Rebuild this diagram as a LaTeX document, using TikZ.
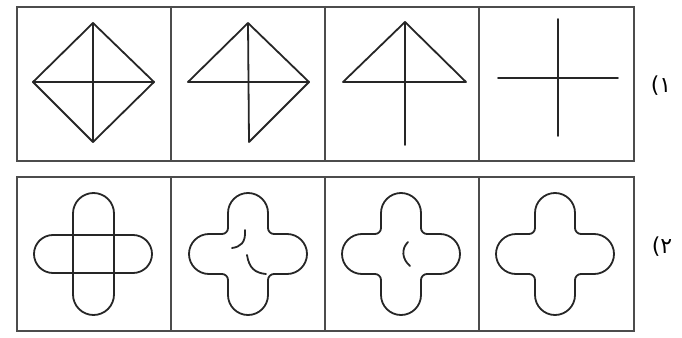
\documentclass[tikz,border=0pt]{standalone}
\usepackage{fontspec}
\newfontfamily\arabicfont[Script=Arabic]{DejaVu Sans}
\tikzset{
  frame/.style={draw=black!70, line width=2pt},
  fig/.style={draw=black!85, line width=1.8pt, line join=round, line cap=round},
  lbl/.style={font=\arabicfont\fontsize{22}{26}\selectfont, inner sep=0pt}
}
\newcommand{\crossshape}[2]{%
  \draw[fig] ({#1-20},{#2+26}) -- ({#1-20},{#2+41}) arc (180:0:20)
    -- ({#1+20},{#2+26}) arc (180:270:6)
    -- ({#1+39},{#2+20}) arc (90:-90:20)
    -- ({#1+26},{#2-20}) arc (90:180:6)
    -- ({#1+20},{#2-41}) arc (0:-180:20)
    -- ({#1-20},{#2-26}) arc (0:90:6)
    -- ({#1-39},{#2-20}) arc (270:90:20)
    -- ({#1-26},{#2+20}) arc (270:360:6) -- cycle;}
\begin{document}
\begin{tikzpicture}[x=1pt,y=1pt]
\useasboundingbox (0,0) rectangle (682,-337);
% frames
\node[frame, minimum width=617pt, minimum height=154pt, inner sep=0pt, anchor=north west] (r1) at (16,-6) {};
\node[frame, minimum width=617pt, minimum height=154pt, inner sep=0pt, anchor=north west] (r2) at (16,-176) {};
\foreach \x in {171,325,479} {
  \draw[frame] (\x,-6) -- (\x,-160);
  \draw[frame] (\x,-176) -- (\x,-330);
}
% row 1 panel 1: full diamond with cross
\coordinate (a1t) at (93,-23); \coordinate (a1b) at (93,-142);
\coordinate (a1l) at (33,-82); \coordinate (a1r) at (154,-82);
\draw[fig] (a1t) -- (a1r) -- (a1b) -- (a1l) -- cycle;
\draw[fig] (a1t) -- (a1b); \draw[fig] (a1l) -- (a1r);
% panel 2
\coordinate (a2t) at (248,-23); \coordinate (a2b) at (249,-142);
\coordinate (a2l) at (188,-82); \coordinate (a2r) at (309,-82);
\draw[fig] (a2l) -- (a2t) -- (a2r) -- (a2b) -- (a2t);
\draw[fig] (a2l) -- (a2r);
% panel 3
\coordinate (a3t) at (405,-22); \coordinate (a3b) at (405,-145);
\coordinate (a3l) at (343,-82); \coordinate (a3r) at (466,-82);
\draw[fig] (a3l) -- (a3t) -- (a3r) -- cycle;
\draw[fig] (a3t) -- (a3b);
% panel 4
\coordinate (a4t) at (558,-19); \coordinate (a4b) at (558,-136);
\coordinate (a4l) at (498,-78); \coordinate (a4r) at (618,-78);
\draw[fig] (a4t) -- (a4b); \draw[fig] (a4l) -- (a4r);
% row 2 panel 1: two pills
\draw[fig, rounded corners=20.5pt] (73,-193) rectangle (114,-315);
\draw[fig, rounded corners=19pt] (34,-235) rectangle (152,-273);
% panel 2
\crossshape{248}{-254}
\draw[fig] (245,-230) .. controls (246,-243) and (240,-247) .. (232,-248);
\draw[fig] (247,-255) .. controls (249,-268) and (255,-273) .. (266,-274);
% panel 3
\crossshape{401}{-254}
\draw[fig] (408,-242) .. controls (401,-249) and (402,-259) .. (410,-266);
% panel 4
\crossshape{555}{-254}
% labels
\node[lbl] (l1) at (661,-86) {۱)};
\node[lbl] (l2) at (662,-247) {۲)};
\end{tikzpicture}
\end{document}
